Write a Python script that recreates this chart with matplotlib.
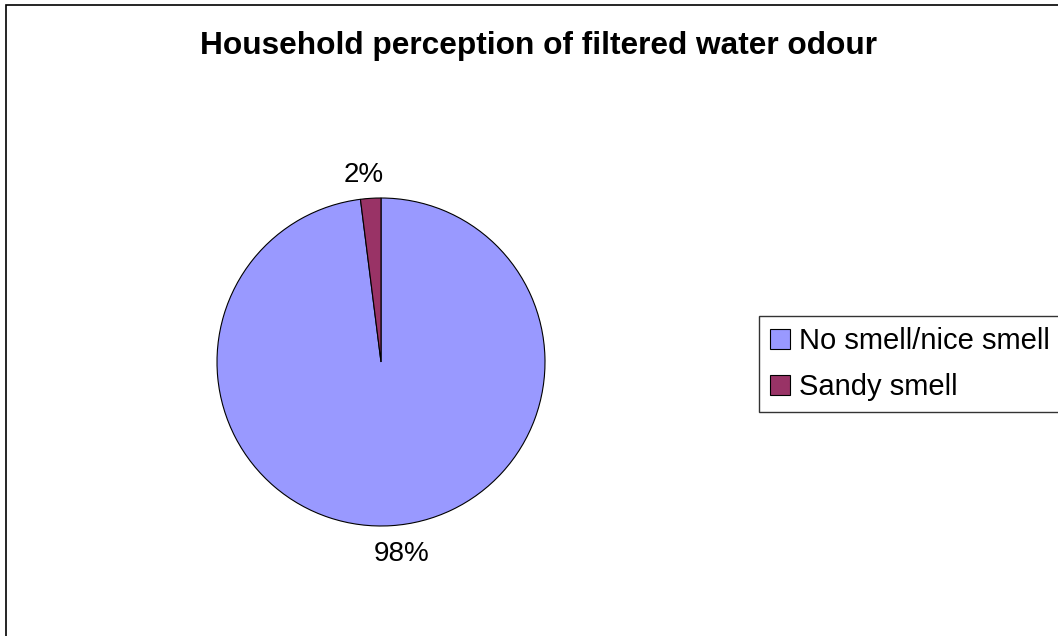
import matplotlib
matplotlib.use("Agg")
import matplotlib.pyplot as plt
from matplotlib.patches import Rectangle

plt.rcParams['font.family'] = ['Liberation Sans', 'DejaVu Sans']

# data
categories = ["No smell/nice smell", "Sandy smell"]
shares = [98, 2]
colors = ["#9999FF", "#993366"]
title = "Household perception of filtered water odour"

W, H = 1058, 636
fig = plt.figure(figsize=(W / 100, H / 100), dpi=100)

# outer chart border (only top/left visible in the reference)
fig.patches.append(Rectangle((6 / W, -0.1), 1.2, (H - 5) / H + 0.1,
                             transform=fig.transFigure, fill=False,
                             edgecolor="black", linewidth=1.2))

# pie axes, placed in pixel terms
cx, cy, r = 381, 362, 164
ax = fig.add_axes([(cx - r) / W, (H - cy - r) / H, 2 * r / W, 2 * r / H])
wedges, texts, autotexts = ax.pie(
    shares, colors=colors, startangle=90, counterclock=False,
    autopct="%d%%", pctdistance=1.17,
    wedgeprops=dict(edgecolor="black", linewidth=0.8),
    textprops=dict(fontsize=20, color="black"))
# small nudges to match the label placement of the original (98%, 2%)
nudges = [(0.05, 0.0), (-0.03, -0.03)]
for t, (dx, dy) in zip(autotexts, nudges):
    x, y = t.get_position()
    t.set_position((x + dx, y + dy))
ax.set_xlim(-1, 1)
ax.set_ylim(-1, 1)
ax.set_aspect("equal")
ax.axis("off")

fig.text(538 / W, 1 - 46 / H, title, ha="center", va="center",
         fontsize=22.8, fontweight="bold")

leg = fig.legend(wedges, categories, loc="upper left",
                 bbox_to_anchor=(759 / W, 1 - 316 / H),
                 fontsize=21, frameon=True, fancybox=False,
                 edgecolor="black", handlelength=0.68, handleheight=0.68,
                 handletextpad=0.3, labelspacing=0.62, borderpad=0.38,
                 borderaxespad=0)
leg.get_frame().set_linewidth(1.0)

fig.savefig("out.png", dpi=100, facecolor="white")
